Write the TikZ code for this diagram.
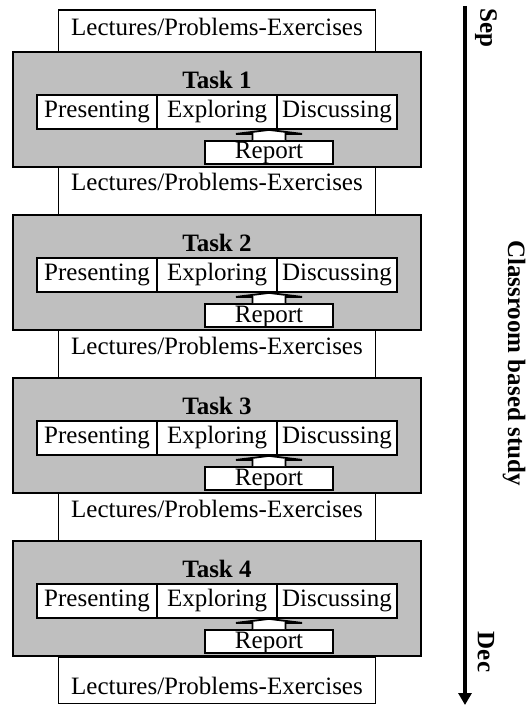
\documentclass[tikz,border=0pt]{standalone}
\usepackage{fontspec}
\setmainfont{Liberation Serif}
\usetikzlibrary{shapes,arrows,arrows.meta,calc}

\begin{document}
\begin{tikzpicture}[x=0.5pt, y=-0.5pt, font=\fontsize{12.5}{15}\selectfont]
\tikzstyle{lecture}=[rectangle, draw, fill=white, line width=0.9pt, minimum width=158.5pt, inner sep=0pt]
\tikzstyle{task}=[rectangle, draw, fill=black!25, line width=0.9pt, minimum width=204pt, minimum height=57.5pt]
\tikzstyle{title}=[font=\fontsize{12.5}{15}\selectfont\bfseries]
\tikzstyle{phase}=[rectangle, draw, fill=white, line width=0.9pt, minimum width=60pt, minimum height=17pt, inner sep=0pt]
\tikzstyle{report}=[rectangle, draw, fill=white, line width=0.9pt, minimum width=64pt, inner sep=0pt, text height=9pt, text depth=2.5pt]
\tikzstyle{blockarrow}=[draw, fill=white, line width=0.9pt, line join=miter]
\tikzstyle{month}=[font=\fontsize{12.5}{15}\selectfont\bfseries, rotate=-90]
\tikzstyle{timeline}=[line width=2pt, -{Triangle[length=6pt,width=6.5pt]}]

\useasboundingbox (0,0) rectangle (527,705);

\node[lecture, text height=13pt, text depth=8pt] (L0) at (217,31) {Lectures/Problems-Exercises};
\node[lecture, text height=12pt, text depth=12pt] (L1) at (217,191) {Lectures/Problems-Exercises};
\node[lecture, text height=12pt, text depth=12pt] (L2) at (217,354) {Lectures/Problems-Exercises};
\node[lecture, text height=12pt, text depth=12pt] (L3) at (217,517) {Lectures/Problems-Exercises};
\node[lecture, text height=18.5pt, text depth=4.75pt] (L4) at (217,680.25) {Lectures/Problems-Exercises};

\node[task] (T1) at (217,109.5) {};
\node[title] (T1t) at (217,80) {Task 1};
\node[phase] (T1x1) at (97,112) {Presenting};
\node[phase] (T1x2) at (217,112) {Exploring};
\node[phase] (T1x3) at (337,112) {Discussing};
\node[report] (T1r) at (269,152.5) {Report};
\draw[blockarrow] ($(T1r.north)+(-16.5,0)$) -- ($(T1r.north |- T1x2.south)+(-16.5,4)$)
  -- ($(T1r.north |- T1x2.south)+(-33,4)$) -- (T1r.north |- T1x2.south) -- ($(T1r.north |- T1x2.south)+(33,4)$)
  -- ($(T1r.north |- T1x2.south)+(16.5,4)$) -- ($(T1r.north)+(16.5,0)$);

\node[task] (T2) at (217,272.5) {};
\node[title] (T2t) at (217,243) {Task 2};
\node[phase] (T2x1) at (97,275) {Presenting};
\node[phase] (T2x2) at (217,275) {Exploring};
\node[phase] (T2x3) at (337,275) {Discussing};
\node[report] (T2r) at (269,315.5) {Report};
\draw[blockarrow] ($(T2r.north)+(-16.5,0)$) -- ($(T2r.north |- T2x2.south)+(-16.5,4)$)
  -- ($(T2r.north |- T2x2.south)+(-33,4)$) -- (T2r.north |- T2x2.south) -- ($(T2r.north |- T2x2.south)+(33,4)$)
  -- ($(T2r.north |- T2x2.south)+(16.5,4)$) -- ($(T2r.north)+(16.5,0)$);

\node[task] (T3) at (217,435.5) {};
\node[title] (T3t) at (217,406) {Task 3};
\node[phase] (T3x1) at (97,438) {Presenting};
\node[phase] (T3x2) at (217,438) {Exploring};
\node[phase] (T3x3) at (337,438) {Discussing};
\node[report] (T3r) at (269,478.5) {Report};
\draw[blockarrow] ($(T3r.north)+(-16.5,0)$) -- ($(T3r.north |- T3x2.south)+(-16.5,4)$)
  -- ($(T3r.north |- T3x2.south)+(-33,4)$) -- (T3r.north |- T3x2.south) -- ($(T3r.north |- T3x2.south)+(33,4)$)
  -- ($(T3r.north |- T3x2.south)+(16.5,4)$) -- ($(T3r.north)+(16.5,0)$);

\node[task] (T4) at (217,598.5) {};
\node[title] (T4t) at (217,569) {Task 4};
\node[phase] (T4x1) at (97,601) {Presenting};
\node[phase] (T4x2) at (217,601) {Exploring};
\node[phase] (T4x3) at (337,601) {Discussing};
\node[report] (T4r) at (269,641.5) {Report};
\draw[blockarrow] ($(T4r.north)+(-16.5,0)$) -- ($(T4r.north |- T4x2.south)+(-16.5,4)$)
  -- ($(T4r.north |- T4x2.south)+(-33,4)$) -- (T4r.north |- T4x2.south) -- ($(T4r.north |- T4x2.south)+(33,4)$)
  -- ($(T4r.north |- T4x2.south)+(16.5,4)$) -- ($(T4r.north)+(16.5,0)$);

\coordinate (Ttop) at (465,6);
\coordinate (Tend) at (465,705);
\draw[timeline] (Ttop) -- (Tend);
\node[month] (Msep) at (486,28) {Sep};
\node[month] (Mdec) at (486,652) {Dec};
\node[month] (Mstudy) at (514,363) {Classroom based study};
\end{tikzpicture}
\end{document}
